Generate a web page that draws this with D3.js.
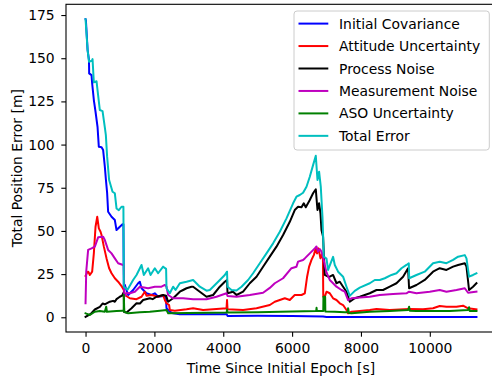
<!DOCTYPE html>
<html>
<head>
<meta charset="utf-8">
<script src="https://cdn.jsdelivr.net/npm/d3@7"></script>
<style>
  body { margin: 0; background: #fff; }
  svg { display: block; }
  text { font-family: "DejaVu Sans", sans-serif; fill: #000; }
</style>
</head>
<body>
<svg id="chart" width="492" height="383"></svg>
<script>
// Tick values
const xTicks = [0, 2000, 4000, 6000, 8000, 10000];
const yTicks = [0, 25, 50, 75, 100, 125, 150, 175];

// Series: [time since epoch (s), total position error (m)]
const initialCovariance = [[0,172.6],[10,172],[60,154.7],[100,148.9],[105,141.2],[174,140.2],[192,135.4],[241,125.8],[290,119],[348,110.3],[386,98.7],[465,98.4],[511,96.8],[560,87.2],[590,80],[627,72],[656,61.1],[755,58.2],[851,56.3],[900,50.5],[996,52.4],[1074,53.8],[1100,53.8],[1112,17.7],[1141,18.7],[1237,12.9],[1382,15.8],[1528,19.7],[1577,20.6],[1626,16.8],[1771,13.9],[1917,12.9],[2012,13.9],[2108,11.9],[2254,12.3],[2330,12.3],[2352,5.2],[2448,3.2],[2544,2.3],[2739,1.7],[3500,1.8],[4100,1.7],[4124,0.8],[5000,0.9],[6000,0.8],[6900,0.5],[7000,0.2],[8000,0.1],[11355,0.1]];

const attitudeUncertainty = [[0,24],[50,26],[80,26.4],[125,24.5],[192,26.4],[241,37],[290,52.4],[340,58.2],[386,51.5],[436,49.5],[465,47.6],[532,40.9],[610,34.1],[685,28.4],[755,25.5],[851,22.6],[947,20.6],[1045,18.1],[1112,15.8],[1141,12.9],[1286,11],[1480,10.5],[1626,11.9],[1722,14.8],[1770,12.5],[1917,12.9],[2108,11.9],[2254,12.9],[2303,10],[2352,8.1],[2428,7.1],[2448,4.2],[2593,3.8],[2933,4.6],[3125,5.2],[3415,4.2],[3706,4.6],[4095,5.2],[4110,10],[4124,4.6],[4577,4.2],[4966,5.2],[5352,7.1],[5497,9],[5788,11],[5933,10],[6077,12.9],[6273,12.9],[6369,13.9],[6436,23.5],[6494,29.3],[6563,33.2],[6630,36],[6688,39.9],[6726,37],[6766,39.9],[6824,34.1],[6853,36],[6895,36],[6905,11.9],[6950,12],[6999,14.8],[7094,13.9],[7190,11],[7289,10],[7385,8.1],[7481,7.1],[7580,4.2],[7626,2.3],[7725,3.2],[7966,3.6],[8256,4.2],[8452,4.8],[8837,4.2],[9398,4.8],[9804,4.6],[10094,5.2],[10289,6.5],[10484,6.1],[10775,6.1],[10967,6.7],[11111,5.2],[11355,4.6]];

const processNoise = [[0,0.2],[150,2],[270,4.5],[415,6],[500,8],[560,7.5],[706,9],[800,9.5],[851,9],[900,10.5],[996,11.9],[1060,12.5],[1110,14.5],[1120,3],[1191,2.8],[1336,5.2],[1481,8.1],[1580,8],[1673,10],[1867,11],[1950,10.5],[2062,11.9],[2254,12.9],[2340,12.5],[2399,9],[2544,11],[2643,12.9],[2739,14.8],[2834,15.8],[2933,16.8],[3078,17.7],[3125,17.7],[3319,14.8],[3514,11.9],[3706,12.9],[3900,17.7],[4045,20.6],[4110,21.6],[4124,13.9],[4286,14.8],[4385,12.9],[4577,14.8],[4771,19.7],[4966,23.5],[5157,29.3],[5352,35.1],[5546,40.9],[5738,47.6],[5933,55.3],[6077,62.1],[6173,64],[6273,63.7],[6339,66],[6397,63.7],[6514,67.9],[6609,71.8],[6688,74.1],[6737,62.1],[6784,66],[6824,60.2],[6853,50.5],[6900,46.6],[6949,24.5],[7045,23.5],[7094,23.5],[7190,24.5],[7289,19.7],[7385,20.6],[7481,17.7],[7580,14.8],[7675,9],[7821,11],[7966,11.9],[8256,13.9],[8452,15.8],[8643,15.8],[8837,17.7],[9032,19.7],[9224,23.5],[9369,28.4],[9398,16.8],[9612,18.7],[9853,21.6],[10094,26.4],[10289,28.4],[10484,27.4],[10676,29.3],[10822,30.3],[11016,31.3],[11065,29.3],[11140,15.8],[11256,17.7],[11355,19.7]];

const measurementNoise = [[0,8.1],[20,26.4],[75,39],[174,39.9],[270,40.9],[366,46.3],[511,46.6],[560,44.7],[656,39],[755,37],[851,34.1],[947,31.3],[1092,30.3],[1112,30],[1125,12],[1191,14],[1286,13.9],[1432,14.8],[1577,17.7],[1818,16.8],[2012,17.7],[2207,17.7],[2303,18.7],[2352,17.7],[2399,12.9],[2544,11],[2834,11],[3125,10.4],[3514,10.4],[3804,11.9],[4095,13.9],[4124,12.3],[4385,11.9],[4771,12.9],[5157,14.2],[5352,17],[5497,19.7],[5738,22.6],[5982,28.4],[6127,29.3],[6173,32.2],[6319,33.2],[6369,34.1],[6514,37],[6659,39.9],[6708,41],[6755,38],[6804,39.5],[6853,38],[6900,35.1],[6949,30.3],[6999,26],[7094,21.6],[7190,19.7],[7289,17.7],[7435,15.8],[7530,14.8],[7626,10],[7725,11],[7966,11.5],[8256,11.9],[8547,12.9],[8933,13.5],[9322,13.9],[9398,14.8],[9612,13.9],[9998,14.8],[10289,15.8],[10484,14.8],[10775,15.8],[11016,16.8],[11111,14.2],[11355,14.8]];

const asoUncertainty = [[0,2.3],[125,1.3],[270,3.2],[415,3.6],[560,3.2],[600,6.1],[620,3.2],[900,3.6],[1074,3.8],[1108,3.8],[1112,13],[1125,3.2],[1237,2.3],[1577,2.9],[1867,3.2],[2160,3.8],[2352,4.2],[2400,2.3],[3000,2.5],[4100,2.7],[4110,4.5],[4124,2.7],[5000,2.9],[6000,3.4],[6700,3.6],[6710,5.5],[6720,3.6],[6905,3.6],[6910,11.9],[6960,11.9],[6965,3.4],[7240,3.2],[7530,2.9],[7620,2.9],[7626,5.2],[7650,2.5],[7725,2.3],[8256,3.2],[8837,3.6],[9369,4.2],[9398,6.1],[9420,3.8],[9612,3.6],[10580,3.6],[11111,4.2],[11140,5.8],[11160,3.6],[11355,3.6]];

const totalError = [[0,172.6],[60,154.7],[100,148],[180,148.5],[203,149.5],[241,136],[319,136.7],[348,131.5],[415,120],[494,119.4],[560,110],[590,105.5],[627,93],[685,79.5],[784,72.7],[851,71.8],[900,63],[967,62],[1045,64],[1100,64],[1112,17.7],[1220,16],[1382,21.6],[1481,24.5],[1626,30.3],[1693,24.5],[1818,28.4],[1888,24.5],[2012,28.4],[2108,25.5],[2254,29.3],[2340,28],[2352,16.8],[2448,13.9],[2544,17.7],[2614,15.8],[2739,19.7],[2933,20.6],[3125,21.6],[3319,17.7],[3514,15.4],[3610,15.8],[3851,20.6],[4045,24.5],[4110,26.4],[4124,17.7],[4240,15.8],[4385,15.5],[4530,17.7],[4722,21.6],[4867,25.5],[5062,31.3],[5256,37],[5448,42.8],[5643,49.5],[5837,57.3],[6029,66],[6127,69.8],[6223,70.8],[6319,72.1],[6418,75.6],[6514,81.4],[6609,88.1],[6688,93.5],[6737,79.5],[6784,84.3],[6833,75.6],[6882,58.2],[6920,35.1],[6999,34],[7045,27.4],[7190,35],[7240,30.3],[7336,26.4],[7481,23.5],[7580,17.7],[7675,12.4],[7821,15.3],[7966,17.2],[8256,19.7],[8402,21.6],[8547,21.6],[8692,22.6],[8887,24.5],[9032,25.5],[9177,28.4],[9322,30.3],[9390,31.3],[9400,22.6],[9612,24.5],[9853,26.4],[10094,31.3],[10289,32.2],[10484,31.3],[10676,33.2],[10822,35.1],[11016,36],[11065,34.1],[11140,23.5],[11256,24.5],[11355,25.5]];

const seriesLabels = ["Initial Covariance", "Attitude Uncertainty", "Process Noise", "Measurement Noise", "ASO Uncertainty", "Total Error"];
const seriesColors = ["#0000ff", "#ff0000", "#000000", "#bf00bf", "#008000", "#00bfbf"];
const seriesData = [initialCovariance, attitudeUncertainty, processNoise, measurementNoise, asoUncertainty, totalError];

// Plot frame
const plot = { left: 66, right: 496, top: 4.3, bottom: 332 };
const fontSize = 13.9;

const svg = d3.select("#chart");

// Axis limits with a 5% margin around the data
const allPts = seriesData.flat();
const xMin = d3.min(allPts, d => d[0]), xMax = d3.max(allPts, d => d[0]);
const yMin = d3.min(allPts, d => d[1]), yMax = d3.max(allPts, d => d[1]);
const xPad = (xMax - xMin) * 0.05, yPad = (yMax - yMin) * 0.05;

const x = d3.scaleLinear().domain([xMin - xPad, xMax + xPad]).range([plot.left, plot.right]);
const y = d3.scaleLinear().domain([yMin - yPad, yMax + yPad]).range([plot.bottom, plot.top]);

// Axes
const xAxis = svg.append("g")
  .attr("transform", `translate(0,${plot.bottom})`)
  .call(d3.axisBottom(x).tickValues(xTicks).tickFormat(d3.format("d")).tickSize(4.7).tickPadding(6.2));
const yAxis = svg.append("g")
  .attr("transform", `translate(${plot.left},0)`)
  .call(d3.axisLeft(y).tickValues(yTicks).tickFormat(d3.format("d")).tickSize(4.7).tickPadding(6.6));

[xAxis, yAxis].forEach(g => {
  g.select(".domain").remove();
  g.selectAll(".tick line").attr("stroke", "#000").attr("stroke-width", 1.1);
  g.selectAll(".tick text")
    .attr("fill", "#000")
    .style("font-family", '"DejaVu Sans", sans-serif')
    .style("font-size", fontSize + "px");
});

// Lines
const clip = svg.append("clipPath").attr("id", "plot-clip")
  .append("rect")
  .attr("x", plot.left).attr("y", plot.top)
  .attr("width", plot.right - plot.left).attr("height", plot.bottom - plot.top);

const line = d3.line().x(d => x(d[0])).y(d => y(d[1]));
const lines = svg.append("g").attr("clip-path", "url(#plot-clip)");
seriesData.forEach((data, i) => {
  lines.append("path")
    .datum(data)
    .attr("d", line)
    .attr("fill", "none")
    .attr("stroke", seriesColors[i])
    .attr("stroke-width", 2)
    .attr("stroke-linejoin", "round")
    .attr("stroke-linecap", "square");
});

// Spines
svg.append("rect")
  .attr("x", plot.left).attr("y", plot.top)
  .attr("width", plot.right - plot.left).attr("height", plot.bottom - plot.top)
  .attr("fill", "none").attr("stroke", "#000").attr("stroke-width", 1.1);

// Axis titles
svg.append("text")
  .attr("x", (plot.left + plot.right) / 2)
  .attr("y", 372.5)
  .attr("text-anchor", "middle")
  .style("font-size", fontSize + "px")
  .text("Time Since Initial Epoch [s]");

svg.append("text")
  .attr("transform", `translate(21.5,${(plot.top + plot.bottom) / 2}) rotate(-90)`)
  .attr("text-anchor", "middle")
  .style("font-size", fontSize + "px")
  .text("Total Position Error [m]");

// Legend
const legend = svg.append("g");
legend.append("rect")
  .attr("x", 294).attr("y", 11)
  .attr("width", 195.3).attr("height", 139)
  .attr("rx", 3).attr("ry", 3)
  .attr("fill", "#fff").attr("fill-opacity", 0.8)
  .attr("stroke", "#cccccc").attr("stroke-width", 1);

seriesLabels.forEach((label, i) => {
  const cy = 23.6 + i * 22.45;
  legend.append("line")
    .attr("x1", 298.5).attr("x2", 328.3)
    .attr("y1", cy).attr("y2", cy)
    .attr("stroke", seriesColors[i]).attr("stroke-width", 2);
  legend.append("text")
    .attr("x", 339).attr("y", cy + 5)
    .style("font-size", fontSize + "px")
    .text(label);
});
</script>
</body>
</html>
